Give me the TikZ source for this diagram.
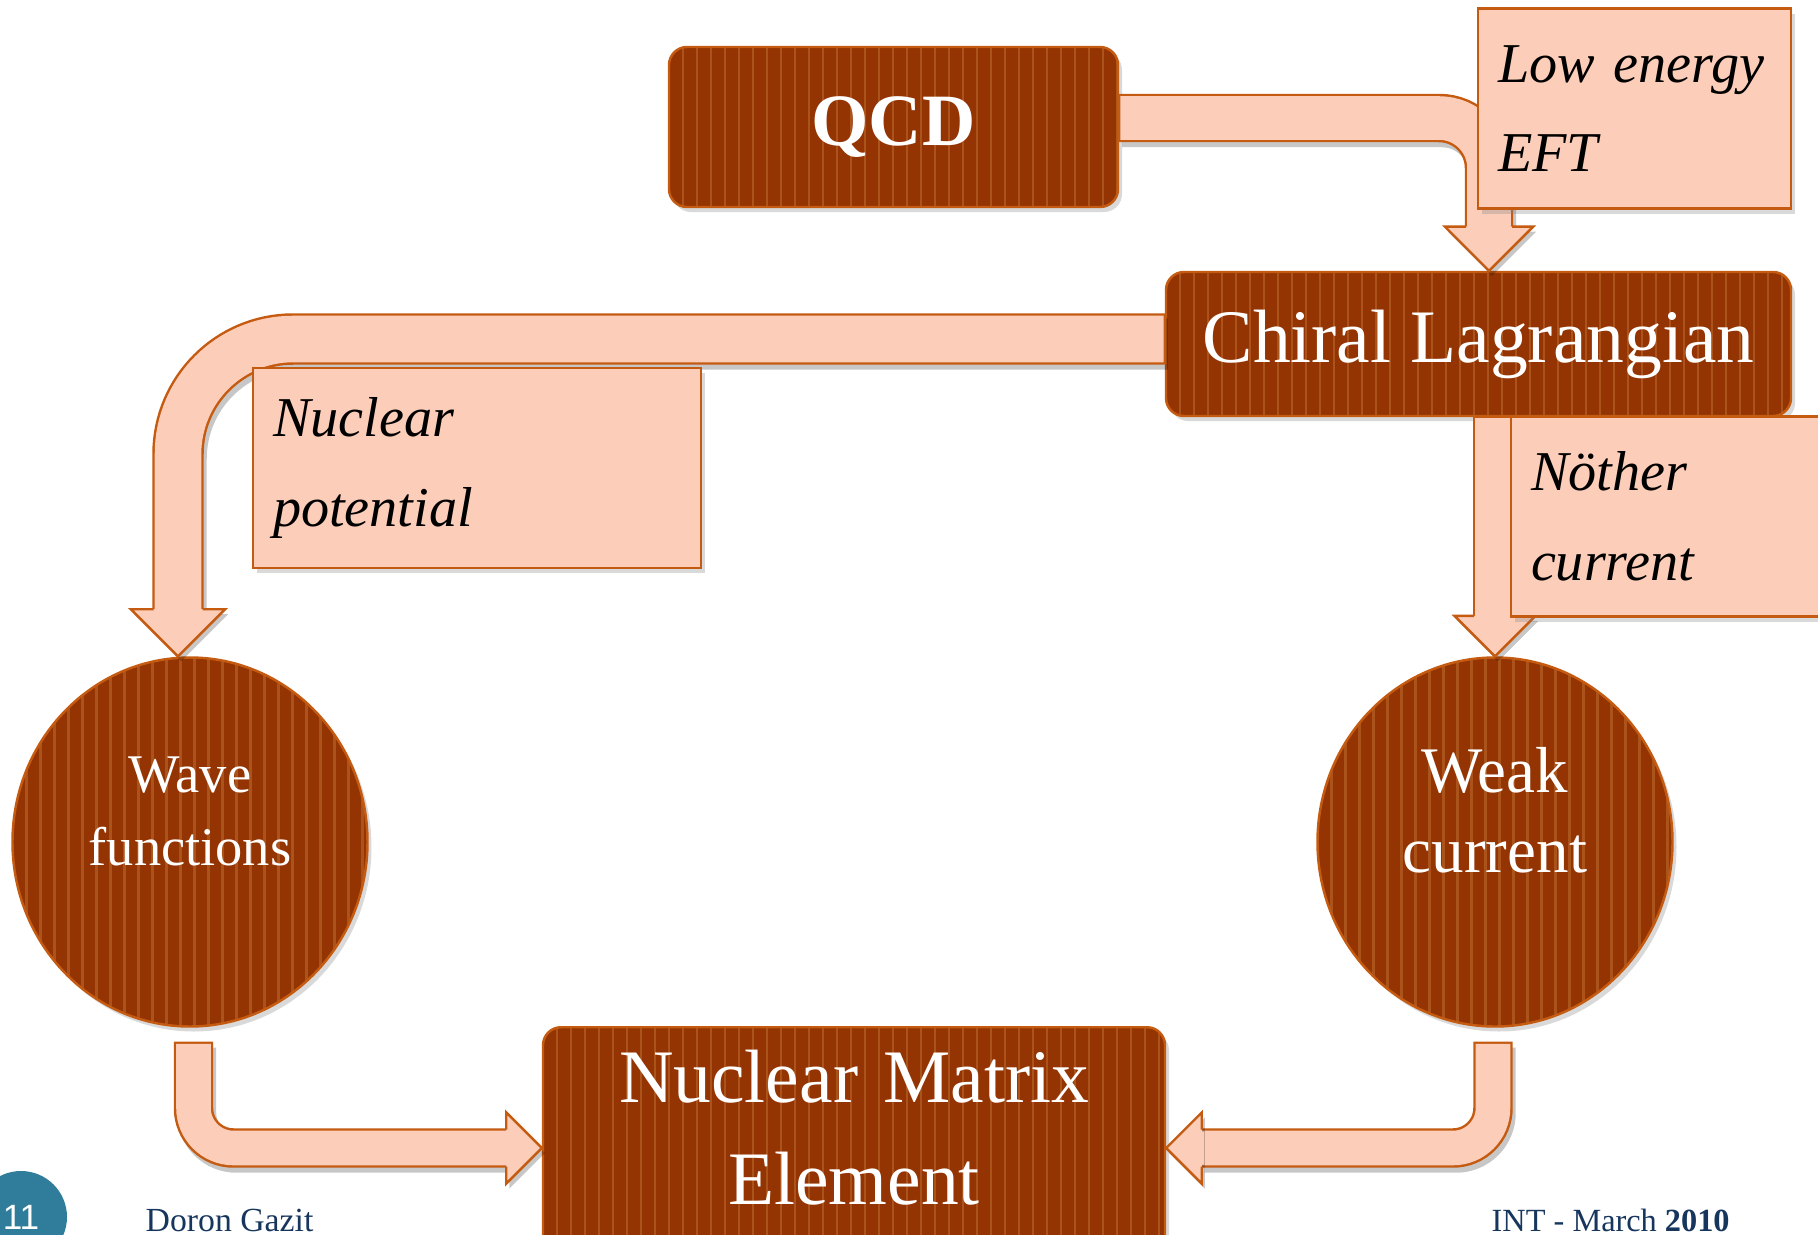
\documentclass[tikz,border=0pt]{standalone}
\usepackage{fontspec}
\setmainfont{Liberation Serif}
\newfontfamily\pagefont{Liberation Sans}
\usepackage{tikz}
\usetikzlibrary{calc,shapes.geometric,shadows}
\usepackage{xcolor}

\definecolor{rust}{RGB}{148,52,2}
\definecolor{stripe}{RGB}{170,84,28}
\definecolor{rim}{RGB}{197,90,17}
\definecolor{peach}{RGB}{252,206,186}
\definecolor{footnavy}{RGB}{23,54,93}
\definecolor{pageblue}{RGB}{47,125,155}

\newcommand\bigtxt{\fontsize{21.5}{29}\selectfont}
\newcommand\tagtxt{\itshape\fontsize{16}{25.5}\selectfont}
\newcommand\fatband[3]{% shaft width (cm), bend radius, path
  \draw[black, opacity=0.22, line width=#1cm+0.7pt, rounded corners=#2,
    transform canvas={shift={(0.03,-0.05)}}] #3;
  \draw[rim, line width=#1cm+0.7pt, rounded corners=#2, shorten <=-0.35pt] #3;
  \draw[peach, line width=#1cm-0.7pt, rounded corners=#2, shorten <=0.35pt] #3;}

\begin{document}
\begin{tikzpicture}[
  darkbox/.style={rounded corners=0.18cm, draw=rim, line width=0.7pt, fill=rust,
    drop shadow={shadow xshift=0.04cm, shadow yshift=-0.05cm, opacity=0.3},
    path picture={\foreach \i in {1,...,46}
      \draw[stripe, line width=0.025cm] ([xshift=\i*0.14cm]path picture bounding box.south west) -- ++(0,4);},
    text=white},
  disc/.style={darkbox, ellipse, inner sep=0pt, minimum width=3.55cm, minimum height=3.69cm,
    text width=2.2cm, align=center, text height=0.3cm, text depth=1.3cm},
  tagbox/.style={draw=rim, line width=0.7pt, fill=peach,
    drop shadow={shadow xshift=0.04cm, shadow yshift=-0.05cm, opacity=0.3},
    text width=#1, align=left, inner xsep=0.2cm, minimum height=2cm, font=\tagtxt},
  pics/fathead/.style={code={
    \fill[black, opacity=0.22, transform canvas={shift={(0.03,-0.05)}}]
      ({-0.96*#1},{0.96*#1}) -- (0,0) -- ({-0.96*#1},{-0.96*#1}) -- cycle;
    \fill[peach] ({-0.96*#1-0.02},{#1/2-0.02}) -- ({-0.96*#1-0.02},{-#1/2+0.02})
      -- ({-0.96*#1},{-#1/2+0.02}) -- ({-0.96*#1},{-0.96*#1}) -- (0,0)
      -- ({-0.96*#1},{0.96*#1}) -- ({-0.96*#1},{#1/2-0.02}) -- cycle;
    \draw[rim, line width=0.7pt] ({-0.96*#1},{#1/2}) -- ({-0.96*#1},{0.96*#1}) -- (0,0)
      -- ({-0.96*#1},{-0.96*#1}) -- ({-0.96*#1},{-#1/2});
  }}
  ]
\useasboundingbox (0,0) rectangle (18.18,12.34);

% main blocks
\node[darkbox, minimum width=4.49cm, minimum height=1.6cm,
  font=\bfseries\fontsize{21}{25}\selectfont] (QCD) at (8.935,11.07) {QCD};
\node[darkbox, minimum width=6.25cm, minimum height=1.44cm, font=\bigtxt] (chiral) at (14.785,8.90) {Chiral Lagrangian};
\node[disc, font=\fontsize{15.5}{21}\selectfont] (wave) at (1.90,3.92) {Wave\\functions};
\node[disc, font=\fontsize{18.5}{23}\selectfont] (weak) at (14.95,3.92) {Weak\\current};
\node[darkbox, anchor=north, text width=5.82cm, align=center, inner xsep=0.2cm, inner ysep=0.2cm,
  text height=0.55cm, text depth=2cm, font=\bigtxt] (NME) at (8.54,2.08) {Nuclear Matrix\\Element};

% arrow tips
\coordinate (tipA) at ($(chiral.north)+(0.105,0)$);
\coordinate (tipB) at ($(wave.north)+(-0.12,0)$);
\coordinate (tipC) at (weak.north);
\coordinate (tipD) at ($(NME.north west)+(0,-1.22)$);
\coordinate (tipE) at ($(NME.north east)+(0,-1.22)$);

\fatband{0.46}{0.5cm}{($(QCD.east)+(0,0.09)$) -| ($(tipA)+(0,0.442)$)}
\pic[rotate=-90] at (tipA) {fathead=0.46};
\fatband{0.49}{1.15cm}{($(chiral.west)+(0,0.05)$) -| ($(tipB)+(0,0.47)$)}
\pic[rotate=-90] at (tipB) {fathead=0.49};
\fatband{0.42}{0pt}{(chiral.south -| tipC) -- ($(tipC)+(0,0.403)$)}
\pic[rotate=-90] at (tipC) {fathead=0.42};
\fatband{0.37}{0.4cm}{($(wave.south)+(0.035,-0.15)$) |- ($(tipD)+(-0.355,0)$)}
\pic at (tipD) {fathead=0.37};
\fatband{0.37}{0.4cm}{($(weak.south)+(-0.02,-0.15)$) |- ($(tipE)+(0.355,0)$)}
\pic[rotate=180] at (tipE) {fathead=0.37};

% side notes
\node[tagbox=2.73cm] (eft) at (16.345,11.255) {Low energy\\EFT};
\node[tagbox=4.08cm] (pot) at (4.77,7.66) {Nuclear\\potential};
\node[tagbox=2.73cm] (noether) at (16.675,7.175) {Nöther\\current};

% footer
\node[circle, fill=pageblue, minimum size=0.92cm, inner sep=0pt, text=white,
  font=\pagefont\fontsize{10}{12}\selectfont] (page) at (0.21,0.17) {11};
\node[anchor=base west, inner sep=0pt, text=footnavy, font=\fontsize{9.6}{11}\selectfont] (author) at (1.45,0.03) {Doron Gazit};
\node[anchor=base west, inner sep=0pt, text=footnavy, font=\fontsize{9.2}{11}\selectfont] (venue) at (14.91,0.03) {INT - March \textbf{2010}};
\end{tikzpicture}
\end{document}
